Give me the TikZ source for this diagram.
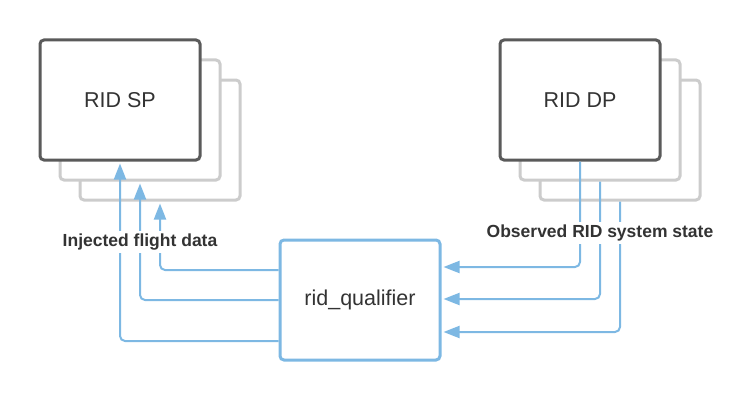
\documentclass[tikz,border=0pt]{standalone}
\usepackage{fontspec}
\setmainfont{Liberation Sans}
\usepackage{tikz}
\usetikzlibrary{arrows.meta}
\definecolor{boxdark}{HTML}{5A5A5A}
\definecolor{boxlight}{HTML}{CCCCCC}
\definecolor{flowblue}{HTML}{7DB8E3}
\definecolor{textdark}{HTML}{333333}
\tikzstyle{frontbox} = [draw=boxdark, line width=3pt, rectangle, rounded corners=4pt, minimum width=160pt, minimum height=120pt, fill=white, text=textdark, font=\fontsize{21.5}{26}\selectfont, inner sep=0pt]
\tikzstyle{backbox} = [frontbox, draw=boxlight]
\tikzstyle{qualbox} = [frontbox, draw=flowblue]
\tikzstyle{flowline} = [draw=flowblue, line width=2pt, rounded corners=5pt, -{Triangle[length=16pt,width=12pt]}, shorten >=2pt]
\tikzstyle{flowlabel} = [fill=white, text=textdark, font=\bfseries\fontsize{17.5}{21}\selectfont, inner xsep=2pt, inner ysep=3pt]

\begin{document}
\begin{tikzpicture}[x=1pt, y=1pt]
    \useasboundingbox (0,0) rectangle (755,400);
    % service provider stack
    \node [backbox] (spc) at (160,260) {};
    \node [backbox] (spb) at (140,280) {};
    \node [frontbox] (sp) at (120,300) {RID SP};
    % display provider stack
    \node [backbox] (dpc) at (620,260) {};
    \node [backbox] (dpb) at (600,280) {};
    \node [frontbox] (dp) at (580,300) {RID DP};
    \node [qualbox] (qual) at (360,100) {rid\_qualifier};
    % injection
    \draw [flowline] ([yshift=-41pt]qual.west) -| (sp.south);
    \draw [flowline] (qual.west) -| (spb.south);
    \draw [flowline] ([yshift=30pt]qual.west) -| (spc.south);
    % observation
    \draw [flowline] (dp.south) |- ([yshift=33pt]qual.east);
    \draw [flowline] (dpb.south) |- ([yshift=1pt]qual.east);
    \draw [flowline] (dpc.south) |- ([yshift=-32pt]qual.east);
    \node [flowlabel] (inj) at (140,158) {Injected flight data};
    \node [flowlabel] (obs) at (600,167) {Observed RID system state};
\end{tikzpicture}
\end{document}
